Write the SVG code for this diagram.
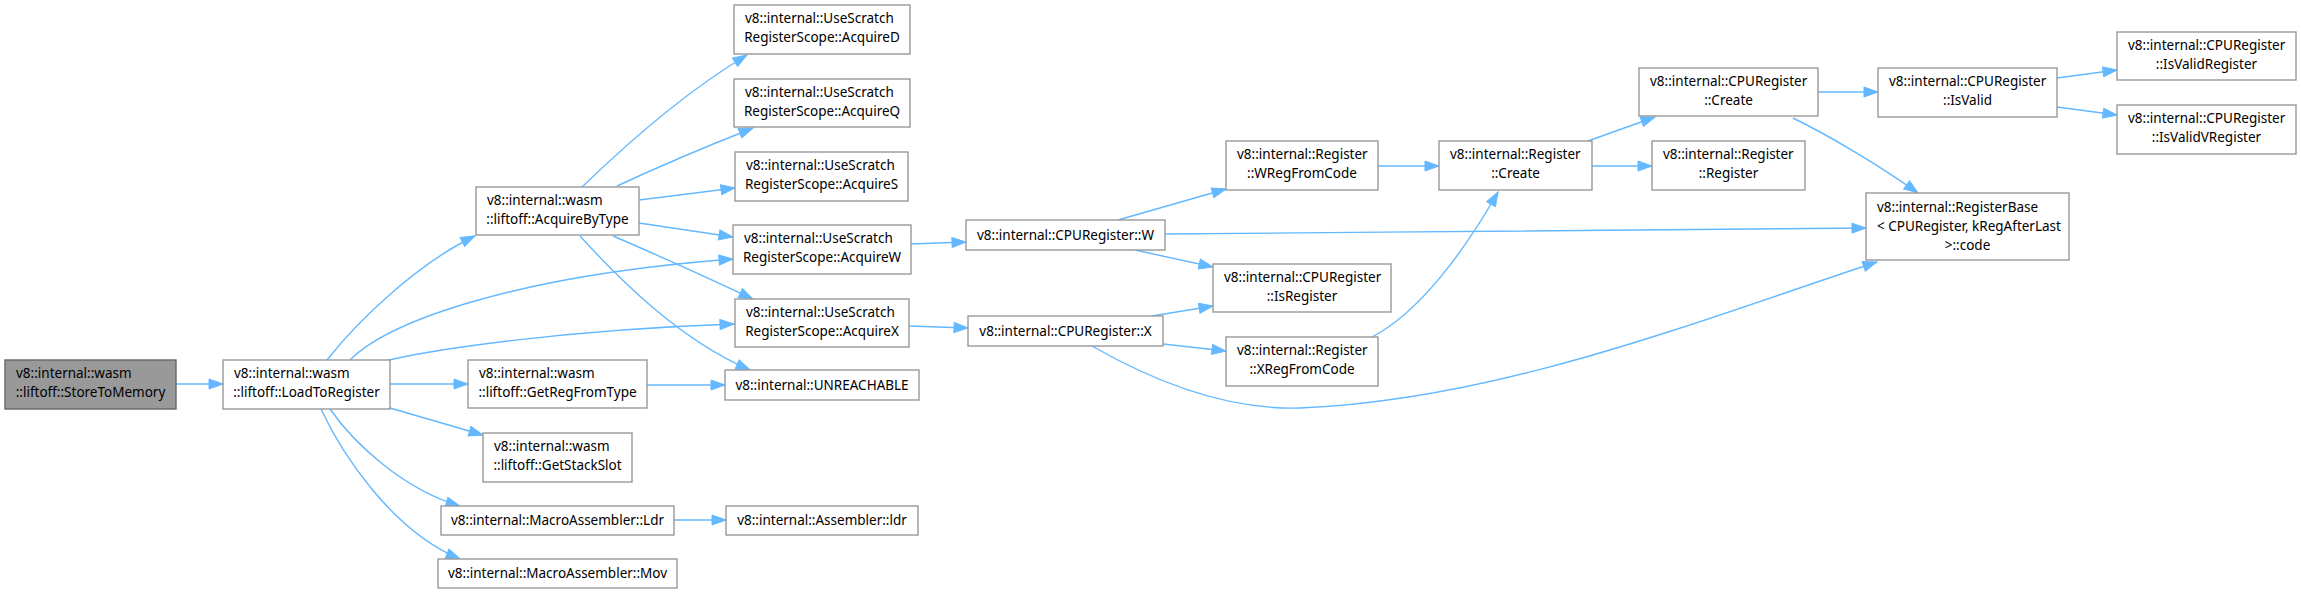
<svg xmlns="http://www.w3.org/2000/svg" width="2301" height="594" viewBox="0 0 2301 594">
<style>
.n rect{fill:#ffffff;stroke:#999999;stroke-width:1.4}
.root rect{fill:#999999;stroke:#666666}
text{font-family:"Noto Sans","DejaVu Sans",sans-serif;font-size:13.5px;fill:#000000}
.m{text-anchor:middle}
#edges path{fill:none;stroke:#63b8ff;stroke-width:1.4;marker-end:url(#arr)}
</style>
<defs>
<marker id="arr" markerUnits="userSpaceOnUse" markerWidth="16" markerHeight="12" refX="14" refY="5" orient="auto" overflow="visible">
<path d="M0,0 L14,5 L0,10 z" fill="#63b8ff" stroke="#63b8ff" stroke-width="1"/>
</marker>
</defs>
<rect width="2301" height="594" fill="#ffffff"/>
<g id="edges">
<path d="M176,384 L223,384"/>
<path d="M327,360 C360,318 420,262 475,236"/>
<path d="M350,360 C390,320 520,275 733,259"/>
<path d="M385,361 C430,350 560,330 734,324"/>
<path d="M390,384 L468,384"/>
<path d="M390,408 L483,435"/>
<path d="M330,409 C355,445 405,490 460,506"/>
<path d="M321,409 C340,450 390,530 460,559"/>
<path d="M582,187 C612,158 680,95 747,55"/>
<path d="M617,186 C660,166 710,145 753,128"/>
<path d="M639,200 L735,188"/>
<path d="M639,223 L733,237"/>
<path d="M613,236 C660,256 710,279 753,299"/>
<path d="M580,236 C620,280 680,340 750,370"/>
<path d="M647,385 L725,385"/>
<path d="M674,520 L726,520"/>
<path d="M911,244 L966,242"/>
<path d="M909,326 L968,328"/>
<path d="M1118,220 L1226,189"/>
<path d="M1165,234 C1400,232 1650,230 1866,228"/>
<path d="M1135,250 L1213,267"/>
<path d="M1152,316 L1213,306"/>
<path d="M1163,344 L1226,351"/>
<path d="M1092,346 C1160,385 1230,410 1300,408 C1500,400 1700,320 1877,262"/>
<path d="M1378,166 L1439,166"/>
<path d="M1372,337 C1420,312 1465,250 1498,192"/>
<path d="M1588,141 L1655,117"/>
<path d="M1592,166 L1652,166"/>
<path d="M1818,92 L1878,92"/>
<path d="M1793,118 C1830,136 1880,166 1918,193"/>
<path d="M2057,78 L2117,70"/>
<path d="M2057,107 L2117,115"/>
</g>
<g id="n0" class="n root"><rect x="5" y="360" width="171" height="49"/><text x="16" y="378">v8::internal::wasm</text><text x="90.5" y="397" class="m">::liftoff::StoreToMemory</text></g>
<g id="n1" class="n"><rect x="223" y="360" width="167" height="49"/><text x="234" y="378">v8::internal::wasm</text><text x="306.5" y="397" class="m">::liftoff::LoadToRegister</text></g>
<g id="n2" class="n"><rect x="476" y="187" width="163" height="48"/><text x="487" y="205">v8::internal::wasm</text><text x="557.5" y="224" class="m">::liftoff::AcquireByType</text></g>
<g id="n3" class="n"><rect x="734" y="5" width="176" height="49"/><text x="745" y="23">v8::internal::UseScratch</text><text x="822" y="42" class="m">RegisterScope::AcquireD</text></g>
<g id="n4" class="n"><rect x="734" y="79" width="176" height="48"/><text x="745" y="97">v8::internal::UseScratch</text><text x="822" y="116" class="m">RegisterScope::AcquireQ</text></g>
<g id="n5" class="n"><rect x="735" y="152" width="173" height="49"/><text x="746" y="170">v8::internal::UseScratch</text><text x="821.5" y="189" class="m">RegisterScope::AcquireS</text></g>
<g id="n6" class="n"><rect x="733" y="225" width="178" height="49"/><text x="744" y="243">v8::internal::UseScratch</text><text x="822" y="262" class="m">RegisterScope::AcquireW</text></g>
<g id="n7" class="n"><rect x="735" y="299" width="174" height="48"/><text x="746" y="317">v8::internal::UseScratch</text><text x="822" y="336" class="m">RegisterScope::AcquireX</text></g>
<g id="n8" class="n"><rect x="725" y="370" width="194" height="30"/><text x="822" y="390" class="m">v8::internal::UNREACHABLE</text></g>
<g id="n9" class="n"><rect x="468" y="360" width="179" height="48"/><text x="479" y="378">v8::internal::wasm</text><text x="557.5" y="397" class="m">::liftoff::GetRegFromType</text></g>
<g id="n10" class="n"><rect x="483" y="433" width="149" height="49"/><text x="494" y="451">v8::internal::wasm</text><text x="557.5" y="470" class="m">::liftoff::GetStackSlot</text></g>
<g id="n11" class="n"><rect x="441" y="506" width="233" height="29"/><text x="557.5" y="525" class="m">v8::internal::MacroAssembler::Ldr</text></g>
<g id="n12" class="n"><rect x="726" y="506" width="192" height="29"/><text x="822" y="525" class="m">v8::internal::Assembler::ldr</text></g>
<g id="n13" class="n"><rect x="438" y="559" width="239" height="29"/><text x="557.5" y="578" class="m">v8::internal::MacroAssembler::Mov</text></g>
<g id="n14" class="n"><rect x="966" y="220" width="199" height="30"/><text x="1065.5" y="240" class="m">v8::internal::CPURegister::W</text></g>
<g id="n15" class="n"><rect x="968" y="316" width="195" height="30"/><text x="1065.5" y="336" class="m">v8::internal::CPURegister::X</text></g>
<g id="n16" class="n"><rect x="1226" y="141" width="152" height="49"/><text x="1237" y="159">v8::internal::Register</text><text x="1302" y="178" class="m">::WRegFromCode</text></g>
<g id="n17" class="n"><rect x="1213" y="264" width="178" height="48"/><text x="1224" y="282">v8::internal::CPURegister</text><text x="1302" y="301" class="m">::IsRegister</text></g>
<g id="n18" class="n"><rect x="1226" y="337" width="152" height="49"/><text x="1237" y="355">v8::internal::Register</text><text x="1302" y="374" class="m">::XRegFromCode</text></g>
<g id="n19" class="n"><rect x="1439" y="141" width="153" height="49"/><text x="1450" y="159">v8::internal::Register</text><text x="1515.5" y="178" class="m">::Create</text></g>
<g id="n20" class="n"><rect x="1652" y="141" width="153" height="49"/><text x="1663" y="159">v8::internal::Register</text><text x="1728.5" y="178" class="m">::Register</text></g>
<g id="n21" class="n"><rect x="1639" y="68" width="179" height="48"/><text x="1650" y="86">v8::internal::CPURegister</text><text x="1728.5" y="105" class="m">::Create</text></g>
<g id="n22" class="n"><rect x="1866" y="193" width="203" height="67"/><text x="1877" y="212">v8::internal::RegisterBase</text><text x="1877" y="231">&lt; CPURegister, kRegAfterLast</text><text x="1967.5" y="250" class="m">&gt;::code</text></g>
<g id="n23" class="n"><rect x="1878" y="68" width="179" height="49"/><text x="1889" y="86">v8::internal::CPURegister</text><text x="1967.5" y="105" class="m">::IsValid</text></g>
<g id="n24" class="n"><rect x="2117" y="32" width="179" height="48"/><text x="2128" y="50">v8::internal::CPURegister</text><text x="2206.5" y="69" class="m">::IsValidRegister</text></g>
<g id="n25" class="n"><rect x="2117" y="105" width="179" height="49"/><text x="2128" y="123">v8::internal::CPURegister</text><text x="2206.5" y="142" class="m">::IsValidVRegister</text></g>
</svg>
